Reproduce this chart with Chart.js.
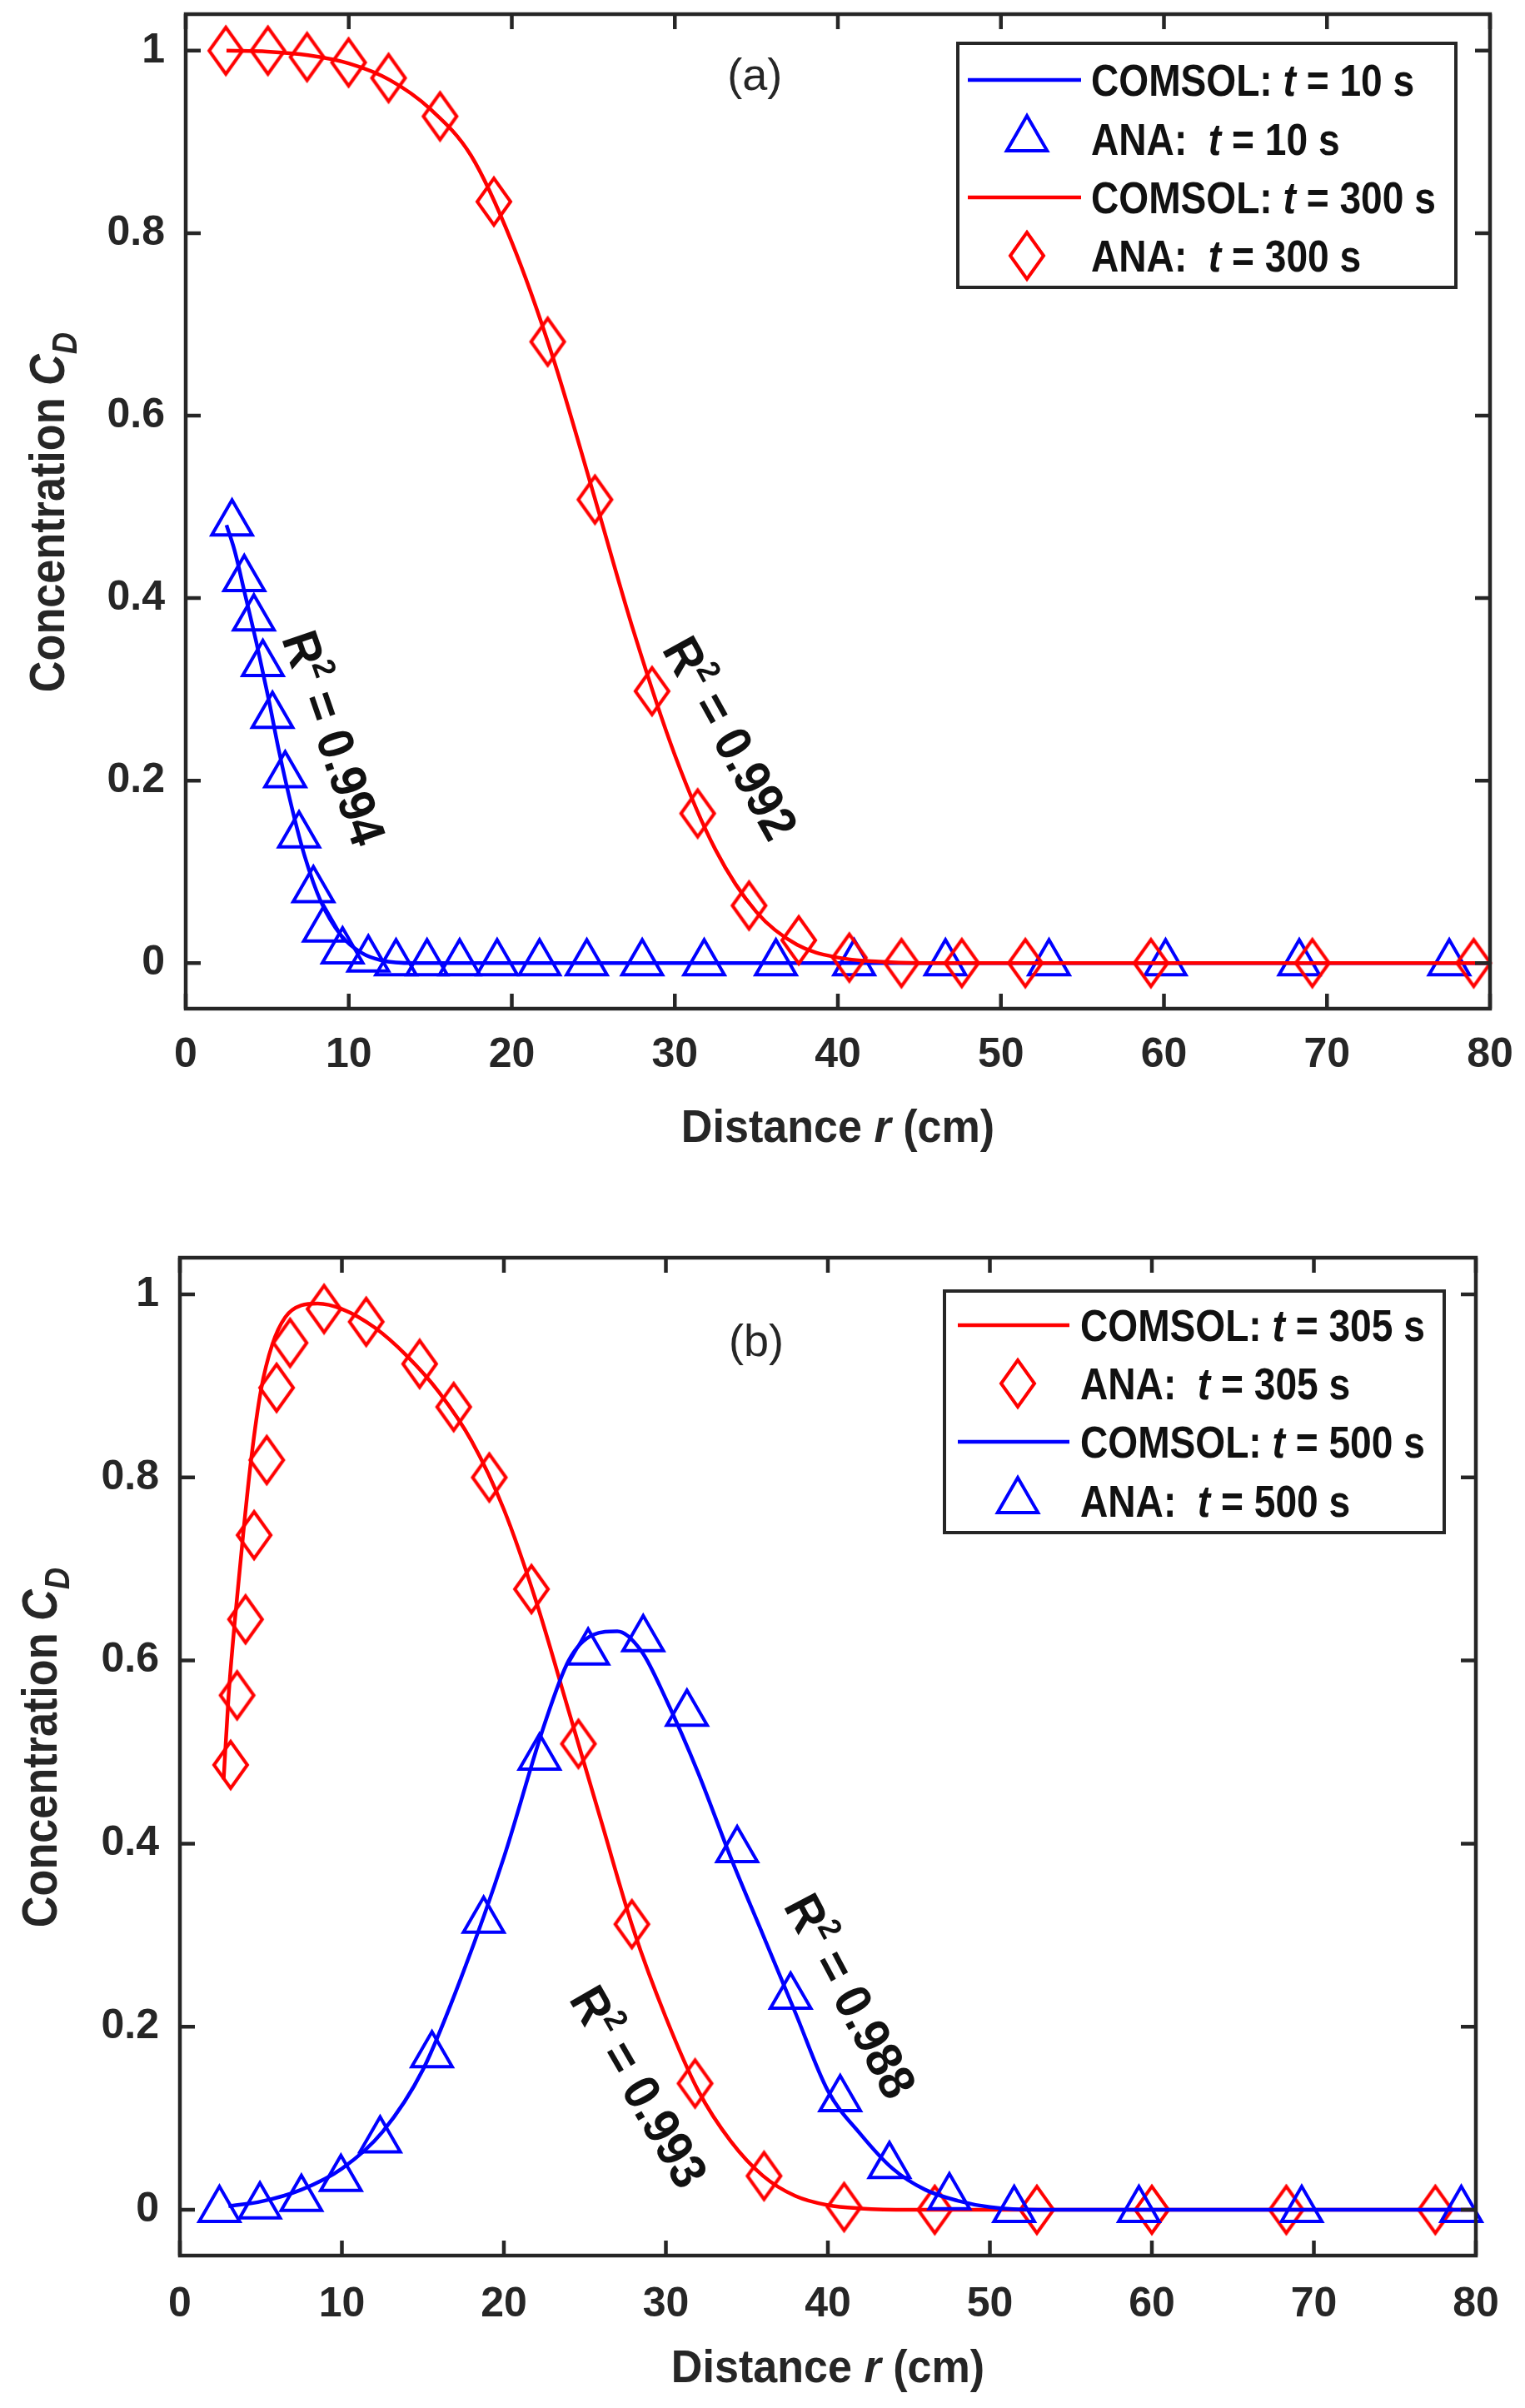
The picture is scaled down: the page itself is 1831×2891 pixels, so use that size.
<!DOCTYPE html>
<html>
<head>
<meta charset="utf-8">
<title>Concentration profiles</title>
<script src="https://cdn.jsdelivr.net/npm/chart.js@4.4.1/dist/chart.umd.min.js"></script>
<style>
  html, body { margin: 0; padding: 0; background: #fff; overflow: hidden; }
  #wrap { position: relative; width: 1831px; height: 2891px; background: #fff; overflow: hidden; }
  #wrap canvas { position: absolute; left: 0; }
</style>
</head>
<body>
<div id="wrap">
  <canvas id="chartA" width="1831" height="1445" style="top:0"></canvas>
  <canvas id="chartB" width="1831" height="1446" style="top:1445px"></canvas>
</div>
<script>
// ---- axes ----
const xTicks = [0, 10, 20, 30, 40, 50, 60, 70, 80];
const yTicks = [0, 0.2, 0.4, 0.6, 0.8, 1];
const yMin = -0.05, yMax = 1.04;

// ---- panel (a): t = 10 s ----
const a10LineR = [2.5, 3.0, 3.6, 4.4, 5.1, 5.7, 6.5, 7.3, 8.3, 9.5, 10.8, 12.0, 14.0, 20, 30, 40, 50, 60, 70, 80];
const a10LineC = [0.48, 0.452, 0.407, 0.346, 0.288, 0.234, 0.171, 0.117, 0.067, 0.031, 0.011, 0.003, 0, 0, 0, 0, 0, 0, 0, 0];
const a10AnaR = [2.84, 3.59, 4.18, 4.73, 5.32, 6.1, 6.95, 7.83, 8.48, 9.62, 11.2, 12.9, 14.8, 16.8, 19.1, 21.7, 24.6, 28.0, 31.8, 36.2, 41.0, 46.6, 52.95, 60.1, 68.3, 77.5];
const a10AnaC = [0.482, 0.421, 0.378, 0.328, 0.271, 0.206, 0.140, 0.080, 0.037, 0.013, 0.004, 0, 0, 0, 0, 0, 0, 0, 0, 0, 0, 0, 0, 0, 0, 0];

// ---- panel (a): t = 300 s ----
const a300LineR = [2.5, 5, 7.5, 10, 12.5, 15, 17.5, 20, 22.5, 25, 27.5, 30, 32.5, 35, 37.5, 40, 42.5, 45, 50, 60, 70, 80];
const a300LineC = [1.0, 0.999, 0.995, 0.986, 0.968, 0.936, 0.885, 0.79, 0.665, 0.515, 0.362, 0.228, 0.124, 0.056, 0.02, 0.006, 0.0015, 0, 0, 0, 0, 0];
const a300AnaR = [2.46, 5.04, 7.44, 9.99, 12.44, 15.6, 18.9, 22.2, 25.1, 28.6, 31.4, 34.55, 37.6, 40.7, 43.9, 47.6, 51.5, 59.2, 69.1, 79.0];
const a300AnaC = [1.0, 1.0, 0.993, 0.987, 0.970, 0.928, 0.8345, 0.681, 0.508, 0.298, 0.164, 0.063, 0.025, 0.006, 0, 0, 0, 0, 0, 0];

// ---- panel (b): t = 305 s ----
const b305LineR = [2.7, 3.0, 3.4, 3.9, 4.4, 5.0, 5.7, 6.5, 7.5, 8.5, 10, 12, 14, 16, 18, 20, 22, 24, 26, 28, 30, 32, 34, 36, 38, 40, 42, 45, 50, 60, 70, 80];
const b305LineC = [0.47, 0.56, 0.645, 0.737, 0.82, 0.895, 0.945, 0.975, 0.988, 0.99, 0.984, 0.964, 0.933, 0.893, 0.84, 0.765, 0.664, 0.545, 0.425, 0.306, 0.21, 0.13, 0.075, 0.037, 0.015, 0.005, 0.0015, 0, 0, 0, 0, 0];
const b305AnaR = [3.13, 3.53, 4.05, 4.58, 5.36, 5.97, 6.8, 8.9, 11.5, 14.8, 16.9, 19.1, 21.7, 24.6, 27.9, 31.8, 36.06, 41.0, 46.6, 52.9, 60.0, 68.3, 77.5];
const b305AnaC = [0.486, 0.562, 0.645, 0.737, 0.819, 0.898, 0.947, 0.984, 0.970, 0.924, 0.877, 0.800, 0.678, 0.509, 0.312, 0.138, 0.037, 0.003, 0, 0, 0, 0, 0];

// ---- panel (b): t = 500 s ----
const b500LineR = [3, 5, 7.5, 10, 12.5, 15, 17.5, 20, 22.5, 24, 25.5, 27, 28.5, 30, 32, 34, 36, 38, 40, 42, 44, 46, 48, 50, 53, 60, 70, 80];
const b500LineC = [0.004, 0.009, 0.022, 0.045, 0.085, 0.153, 0.26, 0.385, 0.53, 0.6, 0.628, 0.632, 0.61, 0.558, 0.477, 0.385, 0.30, 0.215, 0.13, 0.083, 0.045, 0.022, 0.01, 0.003, 0, 0, 0, 0];
const b500AnaR = [2.44, 4.94, 7.5, 9.94, 12.36, 15.56, 18.75, 22.2, 25.2, 28.6, 31.3, 34.4, 37.7, 40.76, 43.8, 47.5, 51.5, 59.2, 69.25, 79.1];
const b500AnaC = [0, 0.004, 0.012, 0.034, 0.076, 0.169, 0.316, 0.494, 0.609, 0.6235, 0.542, 0.393, 0.233, 0.121, 0.048, 0.014, 0, 0, 0, 0];

const aLabels = ['COMSOL: t = 10 s', 'ANA:  t = 10 s', 'COMSOL: t = 300 s', 'ANA:  t = 300 s'];
const bLabels = ['COMSOL: t = 305 s', 'ANA:  t = 305 s', 'COMSOL: t = 500 s', 'ANA:  t = 500 s'];

const FONT = "'Liberation Sans', Arial, Helvetica, sans-serif";
const INK = '#262626';
const BLUE = '#0000ff', RED = '#ff0000';
const TICK = 18;
const TRI_R = 28;

Chart.defaults.font.family = FONT;

// tall MATLAB-style diamond marker, used as a pointStyle image
function diamondImage(color) {
  const hw = 20, hh = 28, lw = 4;
  const c = document.createElement('canvas');
  c.width = 2 * (hw + lw);
  c.height = 2 * (hh + lw);
  const g = c.getContext('2d');
  const cx = c.width / 2, cy = c.height / 2;
  g.strokeStyle = color;
  g.lineWidth = lw;
  g.beginPath();
  g.moveTo(cx, cy - hh);
  g.lineTo(cx + hw, cy);
  g.lineTo(cx, cy + hh);
  g.lineTo(cx - hw, cy);
  g.closePath();
  g.stroke();
  return c;
}
const redDiamond = diamondImage(RED);

function pts(xs, ys) {
  return xs.map((x, i) => ({ x: x, y: ys[i] }));
}

function lineSet(label, xs, ys, color, order) {
  return {
    label, data: pts(xs, ys), showLine: true, fill: false,
    borderColor: color, borderWidth: 4.5, pointRadius: 0, pointHitRadius: 0,
    cubicInterpolationMode: 'monotone', order, clip: false
  };
}

function markSet(label, xs, ys, color, style, order) {
  return {
    label, data: pts(xs, ys), showLine: false,
    pointStyle: style, pointRadius: TRI_R,
    pointBorderColor: color, pointBackgroundColor: 'rgba(0,0,0,0)', pointBorderWidth: 4,
    borderColor: color, order, clip: false
  };
}

// draws a run of text pieces (bold / italic / sub / superscript)
function drawRich(ctx, parts, x, y, o) {
  ctx.save();
  ctx.translate(x, y);
  if (o.rot) ctx.rotate(o.rot * Math.PI / 180);
  ctx.scale(o.sx || 1, 1);
  ctx.fillStyle = o.color || '#111';
  ctx.textBaseline = 'alphabetic';
  ctx.textAlign = 'left';
  const fontOf = p => (p.i ? 'italic ' : '') + (o.weight || 'bold') + ' ' + Math.round(o.size * (p.s || 1)) + 'px ' + FONT;
  const widths = parts.map(p => { ctx.font = fontOf(p); return ctx.measureText(p.t).width; });
  const total = widths.reduce((a, b) => a + b, 0);
  let cx = o.align === 'center' ? -total / 2 : (o.align === 'right' ? -total : 0);
  const base = o.middle ? o.size * 0.36 : 0;
  parts.forEach((p, i) => {
    ctx.font = fontOf(p);
    ctx.fillText(p.t, cx, base + (p.dy || 0) * o.size);
    cx += widths[i];
  });
  ctx.restore();
}

function legendParts(label) {
  const m = label.match(/^(.*?\s)t(\s.*)$/);
  if (!m) return [{ t: label }];
  return [{ t: m[1] }, { t: 't', i: true }, { t: m[2] }];
}

function rSquared(v) {
  return [{ t: 'R' }, { t: '2', s: 0.62, dy: -0.4 }, { t: ' = ' + v }];
}

const xTitle = [{ t: 'Distance ' }, { t: 'r', i: true }, { t: ' (cm)' }];
const yTitle = [{ t: 'Concentration ' }, { t: 'C', i: true }, { t: 'D', i: true, s: 0.7, dy: 0.25 }];

const looks = {
  chartA: {
    top: 17, right: 42, yAxisW: 223, xAxisH: 1445 - 1211, xPad: 26,
    legend: { x: 1150, y: 52, w: 598, h: 293, rows: [96, 167, 237, 307], line: [1162, 1298], mark: 1233, text: 1310 },
    xTitleY: 1371, yTitle: { x: 77, y: 615 },
    panel: { x: 34.9, y: 0.975, t: '(a)' },
    notes: [
      { x: 9.14, y: 0.247, rot: 71, parts: rSquared('0.994') },
      { x: 33.46, y: 0.247, rot: 61, parts: rSquared('0.992') }
    ]
  },
  chartB: {
    top: 65, right: 59, yAxisW: 216, xAxisH: 1446 - 1263, xPad: 29,
    legend: { x: 1134, y: 105, w: 600, h: 290, rows: [146, 216, 286, 357], line: [1150, 1284], mark: 1222, text: 1297 },
    xTitleY: 1415, yTitle: { x: 68, y: 653 },
    panel: { x: 35.58, y: 0.95, t: '(b)' },
    notes: [
      { x: 28.38, y: 0.135, rot: 60, parts: rSquared('0.993') },
      { x: 41.44, y: 0.234, rot: 62, parts: rSquared('0.988') }
    ]
  }
};

const matlabPlugin = {
  id: 'matlab',
  afterDatasetsDraw(chart) {
    const look = looks[chart.canvas.id];
    const ctx = chart.ctx, ca = chart.chartArea;
    const xs = chart.scales.x, ys = chart.scales.y;
    ctx.save();

    // box with inward ticks on all four sides
    ctx.strokeStyle = INK;
    ctx.lineWidth = 4.5;
    ctx.strokeRect(ca.left, ca.top, ca.right - ca.left, ca.bottom - ca.top);
    ctx.beginPath();
    xTicks.forEach(v => {
      const p = xs.getPixelForValue(v);
      ctx.moveTo(p, ca.bottom); ctx.lineTo(p, ca.bottom - TICK);
      ctx.moveTo(p, ca.top); ctx.lineTo(p, ca.top + TICK);
    });
    yTicks.forEach(v => {
      const p = ys.getPixelForValue(v);
      ctx.moveTo(ca.left, p); ctx.lineTo(ca.left + TICK, p);
      ctx.moveTo(ca.right, p); ctx.lineTo(ca.right - TICK, p);
    });
    ctx.stroke();

    // legend
    const lg = look.legend;
    ctx.fillStyle = '#fff';
    ctx.fillRect(lg.x, lg.y, lg.w, lg.h);
    ctx.lineWidth = 4;
    ctx.strokeStyle = INK;
    ctx.strokeRect(lg.x, lg.y, lg.w, lg.h);
    chart.data.datasets.forEach((ds, i) => {
      const yy = lg.rows[i];
      if (ds.showLine) {
        ctx.strokeStyle = ds.borderColor;
        ctx.lineWidth = ds.borderWidth;
        ctx.beginPath();
        ctx.moveTo(lg.line[0], yy);
        ctx.lineTo(lg.line[1], yy);
        ctx.stroke();
      } else if (ds.pointStyle === 'triangle') {
        const r = TRI_R;
        ctx.strokeStyle = ds.pointBorderColor;
        ctx.lineWidth = ds.pointBorderWidth;
        ctx.beginPath();
        ctx.moveTo(lg.mark, yy - r);
        ctx.lineTo(lg.mark + r * Math.sin(Math.PI / 3), yy + r / 2);
        ctx.lineTo(lg.mark - r * Math.sin(Math.PI / 3), yy + r / 2);
        ctx.closePath();
        ctx.stroke();
      } else {
        const img = ds.pointStyle;
        ctx.drawImage(img, lg.mark - img.width / 2, yy - img.height / 2);
      }
      drawRich(ctx, legendParts(ds.label), lg.text, yy, { size: 53, sx: 0.87, middle: true });
    });

    // R^2 notes and panel label
    look.notes.forEach(n => {
      drawRich(ctx, n.parts, xs.getPixelForValue(n.x), ys.getPixelForValue(n.y),
        { size: 61, sx: 0.93, rot: n.rot, align: 'center', middle: true });
    });
    drawRich(ctx, [{ t: look.panel.t }], xs.getPixelForValue(look.panel.x), ys.getPixelForValue(look.panel.y),
      { size: 54, weight: 'normal', align: 'center', middle: true, color: INK });

    // axis titles
    drawRich(ctx, xTitle, (ca.left + ca.right) / 2, look.xTitleY, { size: 56, align: 'center', sx: 0.93, color: INK });
    drawRich(ctx, yTitle, look.yTitle.x, look.yTitle.y, { size: 60, rot: -90, align: 'center', sx: 0.87, color: INK });

    ctx.restore();
  }
};

function makeChart(id, sets) {
  const look = looks[id];
  const chart = new Chart(document.getElementById(id), {
    type: 'scatter',
    data: { datasets: sets },
    options: {
      responsive: false,
      animation: false,
      devicePixelRatio: 1,
      events: [],
      layout: { autoPadding: false, padding: { left: 0, top: look.top, right: look.right, bottom: 0 } },
      plugins: { legend: { display: false }, tooltip: { enabled: false } },
      scales: {
        x: {
          type: 'linear', min: 0, max: 80, bounds: 'data',
          afterBuildTicks: s => { s.ticks = xTicks.map(v => ({ value: v })); },
          afterFit: s => { s.height = look.xAxisH; s.paddingLeft = 0; s.paddingRight = 0; },
          grid: { display: false, drawTicks: false }, border: { display: false },
          ticks: {
            color: INK, padding: look.xPad, maxRotation: 0, autoSkip: false,
            font: { family: FONT, size: 50, weight: 'bold' },
            callback: v => String(v)
          }
        },
        y: {
          type: 'linear', min: yMin, max: yMax, bounds: 'data',
          afterBuildTicks: s => { s.ticks = yTicks.map(v => ({ value: v })); },
          afterFit: s => { s.width = look.yAxisW; s.paddingTop = 0; s.paddingBottom = 0; },
          grid: { display: false, drawTicks: false }, border: { display: false },
          ticks: {
            color: INK, padding: 25, autoSkip: false,
            font: { family: FONT, size: 50, weight: 'bold' },
            callback: v => String(v)
          }
        }
      }
    },
    plugins: [matlabPlugin]
  });
  // nudge the top padding until the plot box starts where the figure's box does
  for (let k = 0; k < 3; k++) {
    const diff = look.top - chart.chartArea.top;
    if (Math.abs(diff) < 0.5) break;
    chart.options.layout.padding.top += diff;
    chart.update();
  }
  return chart;
}

makeChart('chartA', [
  lineSet(aLabels[0], a10LineR, a10LineC, BLUE, 4),
  markSet(aLabels[1], a10AnaR, a10AnaC, BLUE, 'triangle', 3),
  lineSet(aLabels[2], a300LineR, a300LineC, RED, 2),
  markSet(aLabels[3], a300AnaR, a300AnaC, RED, redDiamond, 1)
]);

makeChart('chartB', [
  lineSet(bLabels[0], b305LineR, b305LineC, RED, 4),
  markSet(bLabels[1], b305AnaR, b305AnaC, RED, redDiamond, 3),
  lineSet(bLabels[2], b500LineR, b500LineC, BLUE, 2),
  markSet(bLabels[3], b500AnaR, b500AnaC, BLUE, 'triangle', 1)
]);
</script>
</body>
</html>
